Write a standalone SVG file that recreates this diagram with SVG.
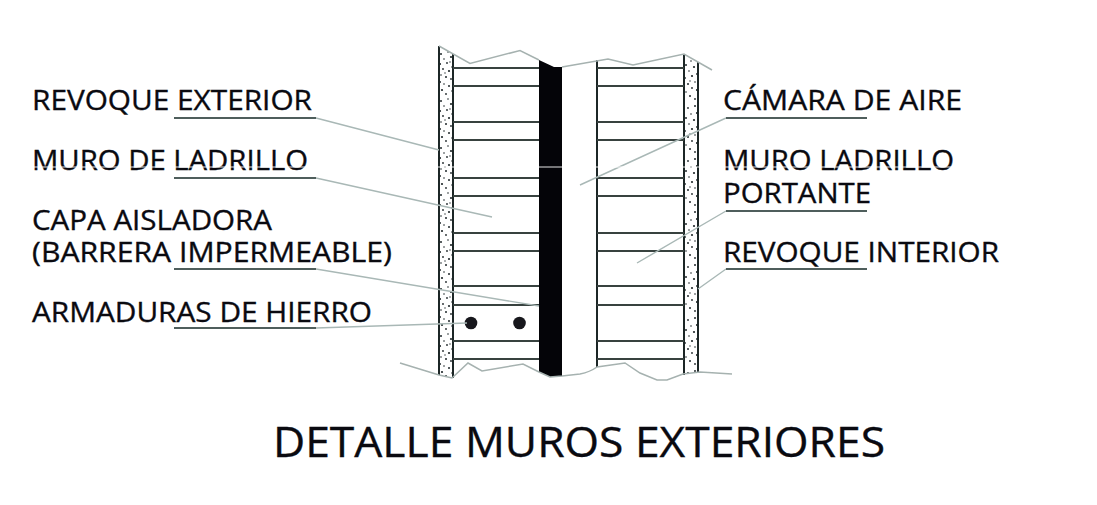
<svg xmlns="http://www.w3.org/2000/svg" width="1097" height="505" viewBox="0 0 1097 505">
<style>
text{font-family:"Open Sans","Noto Sans","Liberation Sans",sans-serif;font-size:27.5px;fill:#0a0a10;stroke:#0a0a10;stroke-width:.35}
.title{font-size:42px}
.lead{stroke:#a9b8b6;stroke-width:1.4;fill:none}
.ul{stroke:#4f5e5c;stroke-width:2;fill:none}
.brk{stroke:#a6b2b0;stroke-width:1.5;fill:none}
.wall{stroke:#1c2626;stroke-width:2;fill:none}
.course{stroke:#38423f;stroke-width:1.8;fill:none}
</style>
<defs>
<pattern id="sp" width="14" height="47" patternUnits="userSpaceOnUse" x="439" y="50">
<g fill="#20282a">
<circle cx="2" cy="4" r="1"/><circle cx="9" cy="2" r=".8"/><circle cx="12" cy="7" r="1.1"/><circle cx="5" cy="9" r=".8"/>
<circle cx="1" cy="14" r="1.1"/><circle cx="8" cy="13" r=".9"/><circle cx="13" cy="17" r=".8"/><circle cx="4" cy="19" r=".9"/>
<circle cx="10" cy="21" r="1.1"/><circle cx="2" cy="25" r=".8"/><circle cx="7" cy="27" r="1"/><circle cx="12" cy="29" r=".9"/>
<circle cx="1" cy="32" r="1"/><circle cx="5" cy="34" r=".8"/><circle cx="10" cy="36" r="1"/><circle cx="3" cy="40" r="1.1"/>
<circle cx="13" cy="41" r=".8"/><circle cx="7" cy="44" r=".9"/><circle cx="6" cy="23" r=".7"/><circle cx="11" cy="12" r=".7"/>
</g>
</pattern>
<pattern id="sp2" width="14" height="53" patternUnits="userSpaceOnUse" x="684" y="50">
<g fill="#20282a">
<circle cx="11" cy="3" r="1"/><circle cx="4" cy="5" r=".9"/><circle cx="13" cy="10" r="1.1"/><circle cx="7" cy="11" r=".8"/>
<circle cx="2" cy="15" r="1"/><circle cx="10" cy="17" r="1.1"/><circle cx="5" cy="21" r=".8"/><circle cx="13" cy="24" r=".9"/>
<circle cx="8" cy="26" r="1.1"/><circle cx="1" cy="28" r=".9"/><circle cx="11" cy="32" r=".8"/><circle cx="4" cy="34" r="1"/>
<circle cx="8" cy="38" r=".9"/><circle cx="13" cy="40" r="1.1"/><circle cx="2" cy="42" r=".8"/><circle cx="6" cy="46" r="1"/><circle cx="11" cy="49" r=".9"/><circle cx="6" cy="31" r=".7"/>
</g>
</pattern>
</defs>

<g id="muro">
<polygon points="439,46 453,54 453,378 439,375" fill="url(#sp)"/>
<polygon points="684,54 698,62 698,372 684,375" fill="url(#sp2)"/>
<path class="wall" d="M439,46V375M453,54V378M597,60V367M684,54V375M698,62V372"/>
<path class="course" d="M453,68H539M453,86H539M453,122H539M453,140H539M453,178H539M453,196H539M453,233H539M453,251H539M453,286H539M453,305H539M453,341H539M453,359H539"/>
<path class="course" d="M597,68H684M597,86H684M597,122H684M597,140H684M597,178H684M597,196H684M597,233H684M597,251H684M597,286H684M597,305H684M597,341H684M597,359H684"/>
<polygon points="539,60 554,67 562,67 562,376 550,377 539,372" fill="#040408"/>
<path class="brk" d="M439,46L470,63.500L520,50.500L539,60M562,67L608,59L633,65L684,54L712,70"/>
<path class="brk" d="M400,363L439,375L452,378L468,363L482,371L523,364L539,372L550,377L562,376L580,374Q590,372 597,367L625,363L640,373L657,380L667,380L683,374L700,372L732,374"/>
<circle cx="471" cy="323" r="6.300" fill="#17171c"/>
<circle cx="519.500" cy="323" r="6.300" fill="#17171c"/>
</g>

<g id="connectors">
<path class="lead" d="M316,118L439,150M316,178L492,217M316,269L539,306M316,328L467,323M726,118L580,185M726,211L637,263M726,269L698,289"/>
<path class="ul" d="M174,118H316M174,178H316M174,269H316M174,328H316M726,118H867M726,211H867M726,269H867"/>
</g>

<g id="revoque-exterior"><text x="32" y="110" textLength="280" lengthAdjust="spacingAndGlyphs">REVOQUE EXTERIOR</text></g>
<g id="muro-de-ladrillo"><text x="32" y="170" textLength="276" lengthAdjust="spacingAndGlyphs">MURO DE LADRILLO</text></g>
<g id="capa-aisladora">
<text x="32" y="230" textLength="240" lengthAdjust="spacingAndGlyphs">CAPA AISLADORA</text>
<text x="32" y="262" textLength="360" lengthAdjust="spacingAndGlyphs">(BARRERA IMPERMEABLE)</text>
</g>
<g id="armaduras"><text x="32" y="322" textLength="340" lengthAdjust="spacingAndGlyphs">ARMADURAS DE HIERRO</text></g>
<g id="camara-de-aire"><text x="723" y="110" textLength="239" lengthAdjust="spacingAndGlyphs">CÁMARA DE AIRE</text></g>
<g id="muro-ladrillo-portante">
<text x="723" y="170" textLength="231" lengthAdjust="spacingAndGlyphs">MURO LADRILLO</text>
<text x="723" y="203" textLength="148" lengthAdjust="spacingAndGlyphs">PORTANTE</text>
</g>
<g id="revoque-interior"><text x="723" y="262" textLength="276" lengthAdjust="spacingAndGlyphs">REVOQUE INTERIOR</text></g>
<g id="titulo"><text class="title" x="273" y="457" textLength="612" lengthAdjust="spacingAndGlyphs">DETALLE MUROS EXTERIORES</text></g>
<path d="M30,167H960" stroke="#fff" stroke-width=".9"/>
</svg>
